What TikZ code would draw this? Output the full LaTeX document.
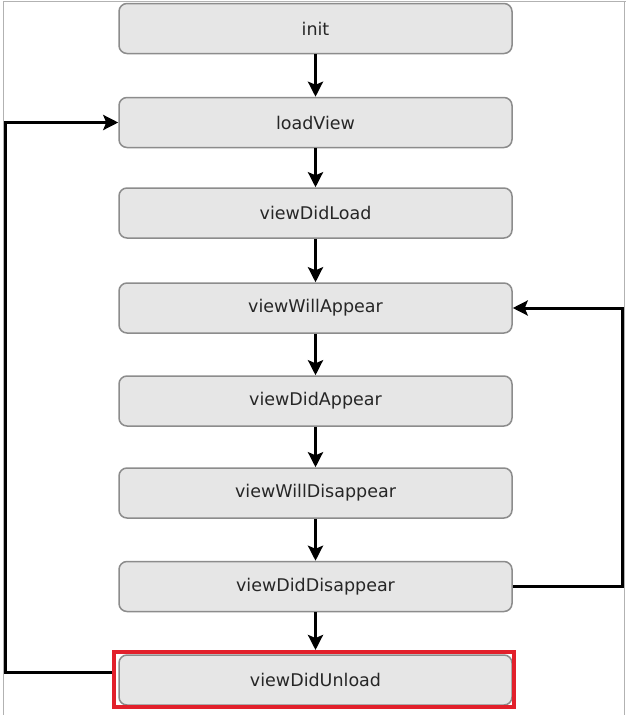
\documentclass[tikz,border=0pt]{standalone}
\usepackage{fontspec}
\setmainfont{DejaVu Sans}
\usetikzlibrary{arrows.meta}
\definecolor{boxfill}{HTML}{E6E6E6}
\definecolor{boxline}{HTML}{8C8C8C}
\definecolor{hired}{HTML}{E2202B}
\begin{document}
\begin{tikzpicture}[x=1pt,y=-1pt,
  stepbox/.style={draw=boxline, line width=1.5pt, fill=boxfill, rounded corners=8pt,
    minimum width=393pt, minimum height=50pt, inner sep=0pt,
    font=\fontsize{17.5}{19}\selectfont, text=black!85},
  flow/.style={line width=3pt, -{Stealth[length=15pt,width=15pt,inset=3pt]}}]
\useasboundingbox (0,0) rectangle (629,715);
\fill[white] (0,0) rectangle (629,715);
\draw[gray!60, line width=1pt] (3,1) -- (626,1);
\draw[gray!60, line width=1pt] (3,1) -- (3,715);
\draw[gray!60, line width=1pt] (624,1) -- (624,715);

\node[stepbox] (init) at (315.5,28.5) {init};
\node[stepbox] (load) at (315.5,122.5) {loadView};
\node[stepbox] (didload) at (315.5,213) {viewDidLoad};
\node[stepbox] (willapp) at (315.5,308) {viewWillAppear};
\node[stepbox] (didapp) at (315.5,401) {viewDidAppear};
\node[stepbox] (willdis) at (315.5,493) {viewWillDisappear};
\node[stepbox] (diddis) at (315.5,586.5) {viewDidDisappear};
\node[stepbox] (unload) at (315.5,680) {viewDidUnload};
\node[draw=hired, line width=4pt, minimum width=400pt, minimum height=55pt, inner sep=0pt] (redframe) at (314,679.5) {};

\draw[flow] (init) -- (load);
\draw[flow] (load) -- (didload);
\draw[flow] (didload) -- (willapp);
\draw[flow] (willapp) -- (didapp);
\draw[flow] (didapp) -- (willdis);
\draw[flow] (willdis) -- (diddis);
\draw[flow] (diddis) -- (unload.north |- redframe.north);

\coordinate (lc) at (5,0);
\coordinate (rc) at (622,0);
\draw[flow] (redframe.west |- 0,672) -- (lc |- 0,672) -- (lc |- load.west) -- (load.west);
\draw[flow] (diddis.east) -- (rc |- diddis.east) -- (rc |- willapp.east) -- (willapp.east);
\end{tikzpicture}
\end{document}
